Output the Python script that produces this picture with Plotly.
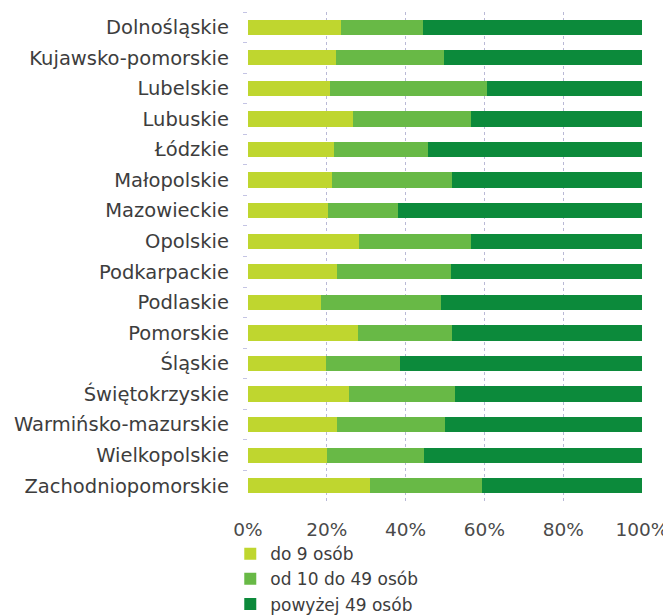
import plotly.graph_objects as go

regions = ["Dolnośląskie", "Kujawsko-pomorskie", "Lubelskie", "Lubuskie", "Łódzkie",
           "Małopolskie", "Mazowieckie", "Opolskie", "Podkarpackie", "Podlaskie",
           "Pomorskie", "Śląskie", "Świętokrzyskie", "Warmińsko-mazurskie",
           "Wielkopolskie", "Zachodniopomorskie"]
do_9 = [23.7, 22.3, 20.8, 26.7, 21.8, 21.2, 20.3, 28.1, 22.5, 18.4, 28.0, 19.7, 25.7, 22.6, 20.1, 30.9]
od_10_49 = [20.8, 27.5, 39.8, 29.8, 24.0, 30.7, 17.8, 28.5, 28.9, 30.6, 23.9, 19.0, 26.8, 27.4, 24.6, 28.4]
pow_49 = [55.5, 50.2, 39.4, 43.5, 54.2, 48.1, 61.9, 43.4, 48.6, 51.0, 48.1, 61.3, 47.5, 50.0, 55.3, 40.7]
series_names = ["do 9 osób", "od 10 do 49 osób", "powyżej 49 osób"]
colors = ["#bfd62f", "#68b946", "#0c8a3b"]

fig = go.Figure()
for name, vals, col in zip(series_names, [do_9, od_10_49, pow_49], colors):
    fig.add_trace(go.Bar(y=regions, x=[v / 100 for v in vals], name=name, orientation="h",
                         marker=dict(color=col, line=dict(width=0))))

fig.update_layout(
    barmode="stack", bargap=0.5,
    width=663, height=608,
    margin=dict(l=240, r=29, t=4, b=115, autoexpand=False),
    paper_bgcolor="white", plot_bgcolor="white",
    font=dict(family="DejaVu Sans", color="#3d3d3d"),
    legend=dict(orientation="v", x=-0.045, xanchor="left", y=-0.072, yanchor="top",
                traceorder="normal", font=dict(size=17, color="#3d3d3d"),
                itemwidth=30, tracegroupgap=0, bgcolor="rgba(0,0,0,0)"),
    showlegend=True,
)
fig.update_xaxes(range=[0, 1], tickvals=[0, 0.2, 0.4, 0.6, 0.8, 1.0], tickformat=".0%",
                 showgrid=True, gridcolor="#b9b9d6", griddash="dot", gridwidth=1,
                 zeroline=False, showline=False, ticks="", ticklabelstandoff=15,
                 tickfont=dict(size=18.5, color="#4a4a4a"))
fig.update_yaxes(autorange="reversed", categoryorder="array", categoryarray=regions,
                 ticks="outside", tickson="boundaries", ticklen=4, tickcolor="#c4c4e4",
                 showgrid=False, showline=False, ticklabelstandoff=18,
                 tickfont=dict(size=19.5, color="#3d3d3d"))

fig.write_html("out.html")
